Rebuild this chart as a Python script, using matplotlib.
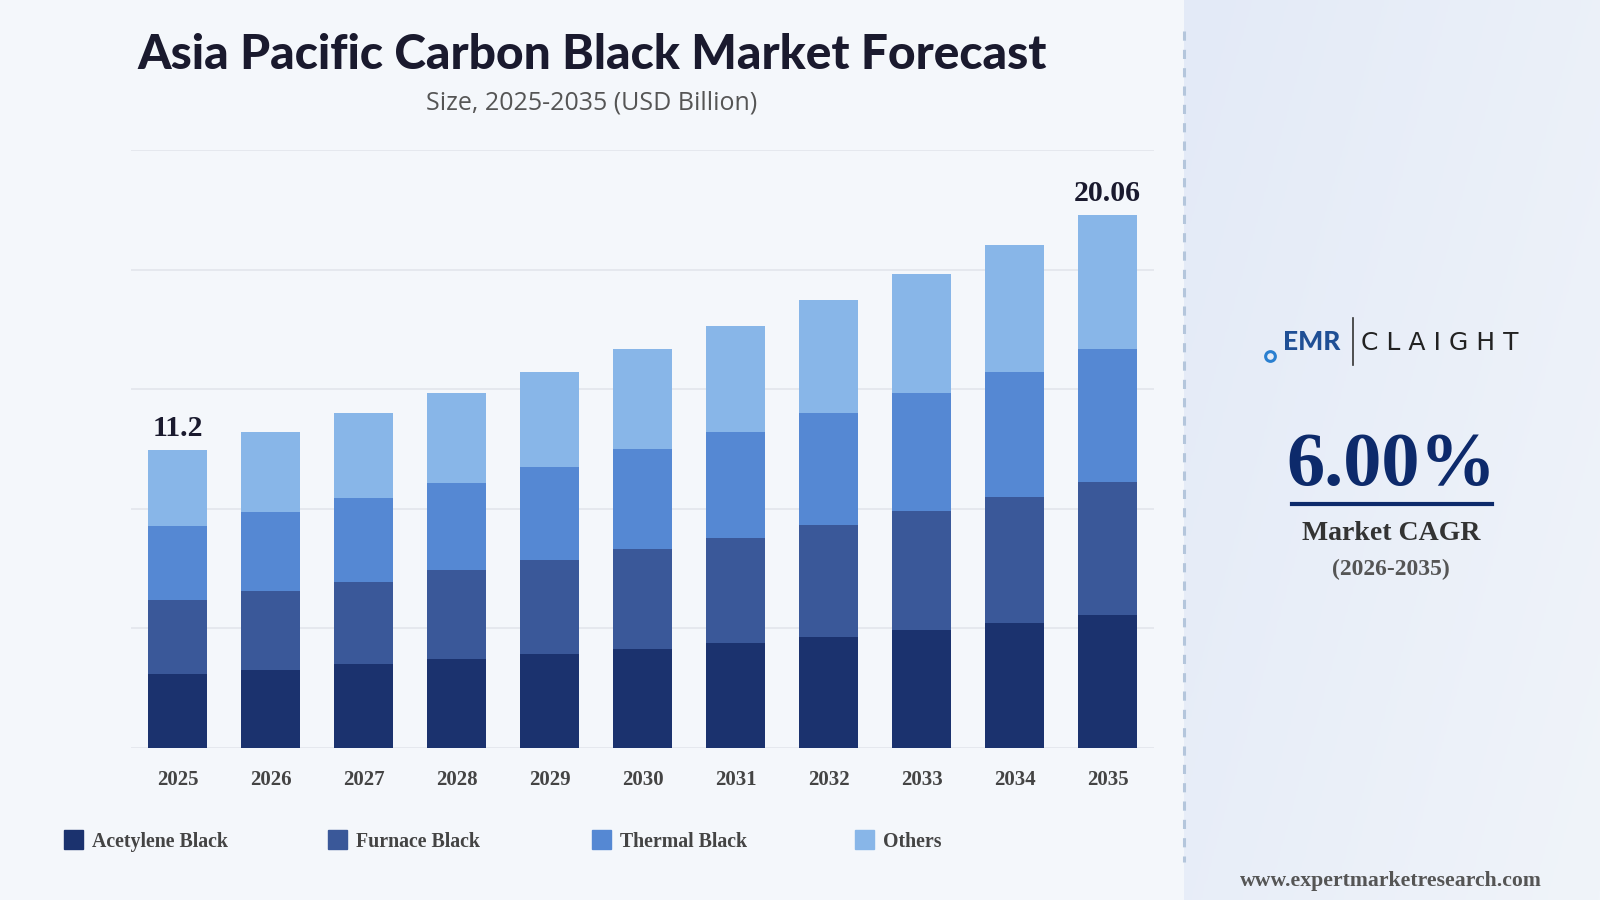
import numpy as np
import matplotlib
matplotlib.use("Agg")
import matplotlib.pyplot as plt
from matplotlib.patches import Rectangle

# Data (USD Billion)
years = ["2025", "2026", "2027", "2028", "2029", "2030", "2031", "2032", "2033", "2034", "2035"]
acetylene = [2.80, 2.95, 3.15, 3.34, 3.53, 3.72, 3.95, 4.18, 4.45, 4.72, 4.99]
furnace = [2.76, 2.95, 3.11, 3.34, 3.53, 3.76, 3.95, 4.22, 4.45, 4.72, 5.02]
thermal = [2.80, 2.99, 3.15, 3.30, 3.53, 3.76, 3.99, 4.22, 4.45, 4.72, 4.99]
others = [2.84, 2.99, 3.18, 3.38, 3.57, 3.76, 3.99, 4.22, 4.49, 4.76, 5.06]
segment_names = ["Acetylene Black", "Furnace Black", "Thermal Black", "Others"]
bar_colors = ["#1b326e", "#3a5899", "#5588d3", "#88b6e8"]
label_years = {"2025": "11.2", "2035": "20.06"}

W, H = 1600, 900
fig = plt.figure(figsize=(16, 9), dpi=100)
fig.patch.set_facecolor("#f4f7fb")


def px(x0, y0, x1, y1):
    # pixel box (top-left origin) -> figure fraction rect
    return [x0 / W, 1 - y1 / H, (x1 - x0) / W, (y1 - y0) / H]


# right panel gradient
bg = fig.add_axes(px(1184, 0, 1600, 900))
grad = np.linspace(0, 1, 256).reshape(1, -1)
grad = grad + np.linspace(0, 0.6, 256).reshape(-1, 1)
bg.imshow(grad, aspect="auto", cmap=matplotlib.colors.LinearSegmentedColormap.from_list(
    "bgc", ["#e3eaf7", "#f0f4fa"]), extent=[0, 1, 0, 1])
bg.axis("off")

# dashed separator
fig.add_artist(plt.Line2D([1184 / W, 1184 / W], [1 - 31 / H, 1 - 862 / H],
                          transform=fig.transFigure, color="#b4c6dc", lw=2.2,
                          linestyle=(0, (3, 3))))

# main chart
ax = fig.add_axes(px(131, 150, 1154, 748))
ax.set_facecolor("none")
x = np.arange(len(years))
series = [acetylene, furnace, thermal, others]
bottom = np.zeros(len(years))
for vals, c in zip(series, bar_colors):
    ax.bar(x, vals, width=0.645, bottom=bottom, color=c, zorder=3)
    bottom += np.array(vals)

ax.set_xlim(-0.5, len(years) - 0.5)
ax.set_ylim(0, 22.5)
ax.set_yticks(np.arange(0, 22.6, 4.5))
ax.yaxis.grid(True, color="#e2e6ec", lw=1.2, zorder=0)
ax.tick_params(left=False, bottom=False, labelleft=False)
for s in ax.spines.values():
    s.set_visible(False)
ax.set_xticks(x)
ax.set_xticklabels(years, fontfamily="Liberation Serif", fontweight="bold",
                   fontsize=15, color="#444444")
ax.tick_params(axis="x", pad=12)

for i, yr in enumerate(years):
    if yr in label_years:
        ax.text(i, bottom[i] + 0.3, label_years[yr], ha="center", va="bottom",
                fontfamily="Liberation Serif", fontweight="bold", fontsize=21.5,
                color="#1a1a2e")

# titles
fig.text(592 / W, 1 - 55 / H, "Asia Pacific Carbon Black Market Forecast",
         ha="center", va="center", fontfamily="Lato", fontweight="black",
         fontsize=34.5, color="#1a1a2e")
fig.text(592 / W, 1 - 103 / H, "Size, 2025-2035 (USD Billion)", ha="center",
         va="center", fontfamily="Open Sans", fontsize=18, color="#555555")

# legend
leg_x = [64, 328, 592, 855]
for lx, name, c in zip(leg_x, segment_names, bar_colors):
    fig.add_artist(Rectangle((lx / W, 1 - 849 / H), 19 / W, 19 / H,
                             transform=fig.transFigure, color=c))
    fig.text((lx + 28) / W, 1 - 842 / H, name, ha="left", va="center",
             fontfamily="Liberation Serif", fontweight="bold", fontsize=14.3,
             color="#444444")

# right panel text (logo)
fig.add_artist(plt.Line2D([1270 / W], [1 - 356 / H], transform=fig.transFigure,
                          marker="o", markersize=7, markerfacecolor="none",
                          markeredgecolor="#2a7fd0", markeredgewidth=2.2))
fig.text(1340 / W, 1 - 342 / H, "EMR", ha="right", va="center",
         fontfamily="Lato", fontweight="black", fontsize=19, color="#1f4f95")
fig.add_artist(plt.Line2D([1353 / W, 1353 / W], [1 - 318 / H, 1 - 365 / H],
                          transform=fig.transFigure, color="#333333", lw=1.2))
fig.text(1361 / W, 1 - 343 / H, "C L A I G H T", ha="left", va="center",
         fontfamily="DejaVu Sans", fontsize=18, color="#222222")

fig.text(1391 / W, 1 - 467 / H, "6.00%", ha="center", va="center",
         fontfamily="Liberation Serif", fontweight="bold", fontsize=55,
         color="#0d2a6b")
fig.add_artist(plt.Line2D([1292 / W, 1492 / W], [1 - 504 / H, 1 - 504 / H],
                          transform=fig.transFigure, color="#0d2a6b", lw=3))
fig.text(1391 / W, 1 - 533 / H, "Market CAGR", ha="center", va="center",
         fontfamily="Liberation Serif", fontweight="bold", fontsize=20,
         color="#333333")
fig.text(1391 / W, 1 - 569 / H, "(2026-2035)", ha="center", va="center",
         fontfamily="Liberation Serif", fontweight="bold", fontsize=17,
         color="#555555")
fig.text(1391 / W, 1 - 881 / H, "www.expertmarketresearch.com", ha="center",
         va="center", fontfamily="Liberation Serif", fontweight="bold",
         fontsize=15.7, color="#555555")

fig.savefig("out.png", dpi=100, facecolor=fig.get_facecolor())
